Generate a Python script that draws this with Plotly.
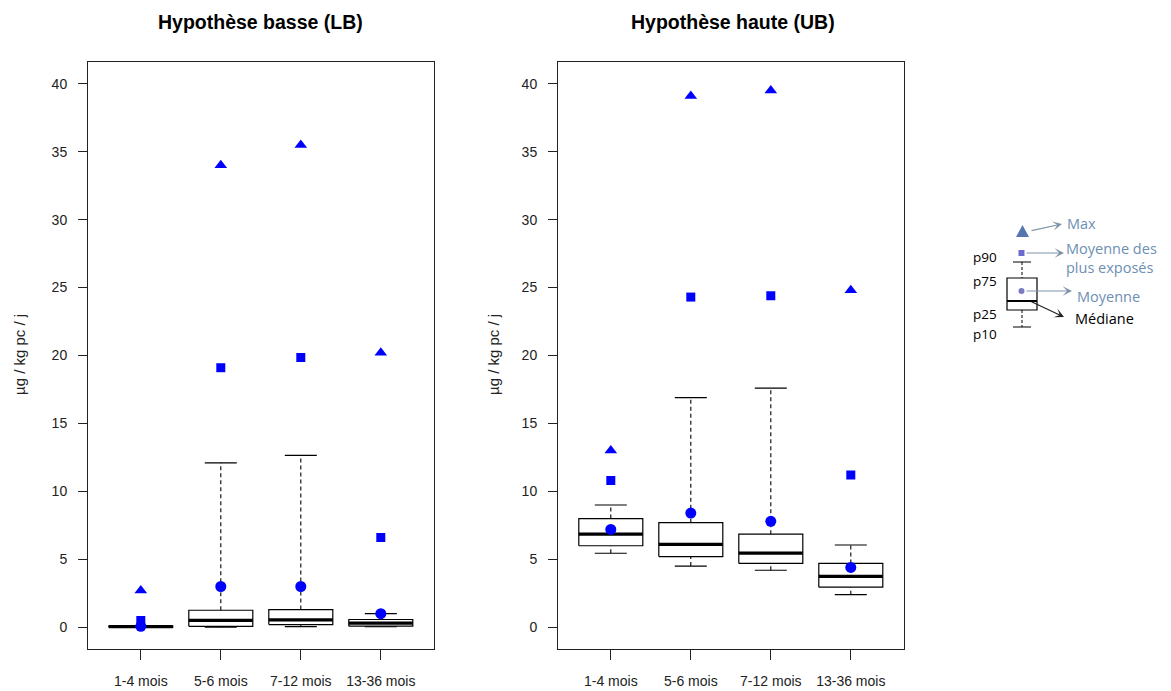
import plotly.graph_objects as go

# Exposition par classe d'âge (µg / kg pc / j)
categories = ["1-4 mois", "5-6 mois", "7-12 mois", "13-36 mois"]

# Hypothèse basse (LB)
lb_p10 = [0.0, 0.0, 0.05, 0.05]
lb_p25 = [0.0, 0.07, 0.2, 0.08]
lb_median = [0.04, 0.5, 0.55, 0.3]
lb_p75 = [0.08, 1.25, 1.3, 0.57]
lb_p90 = [0.1, 12.1, 12.65, 1.0]
lb_mean = [0.07, 3.0, 3.0, 1.0]
lb_mean_top = [0.5, 19.1, 19.85, 6.6]
lb_max = [2.7, 34.0, 35.5, 20.2]

# Hypothèse haute (UB)
ub_p10 = [5.45, 4.5, 4.2, 2.4]
ub_p25 = [6.0, 5.2, 4.7, 2.95]
ub_median = [6.85, 6.1, 5.45, 3.75]
ub_p75 = [8.0, 7.7, 6.85, 4.7]
ub_p90 = [9.0, 16.9, 17.6, 6.05]
ub_mean = [7.2, 8.4, 7.8, 4.4]
ub_mean_top = [10.8, 24.3, 24.4, 11.2]
ub_max = [13.0, 39.1, 39.5, 24.8]

y_ticks = [0, 5, 10, 15, 20, 25, 30, 35, 40]

W, H = 1171, 691
BLUE = "#0000FF"
FONT = "Liberation Sans, Arial, sans-serif"
BOX_HALF = 0.4
CAP_HALF = 0.2

fig = go.Figure()


def add_panel(xa, ya, p10, p25, med, p75, p90, mean, mean_top, vmax):
    for i in range(len(categories)):
        x = i + 1
        # whiskers (dashed) from the box to p10 / p90
        for a, b in ((p75[i], p90[i]), (p10[i], p25[i])):
            fig.add_trace(go.Scatter(
                x=[x, x], y=[a, b], mode="lines", xaxis=xa, yaxis=ya,
                line=dict(color="black", width=1.1, dash="4px,3px"),
                showlegend=False, hoverinfo="skip"))
        # whisker caps
        for v in (p10[i], p90[i]):
            fig.add_trace(go.Scatter(
                x=[x - CAP_HALF, x + CAP_HALF], y=[v, v], mode="lines",
                xaxis=xa, yaxis=ya, line=dict(color="black", width=1.1),
                showlegend=False, hoverinfo="skip"))
        # box p25-p75
        fig.add_trace(go.Scatter(
            x=[x - BOX_HALF, x + BOX_HALF, x + BOX_HALF, x - BOX_HALF, x - BOX_HALF],
            y=[p25[i], p25[i], p75[i], p75[i], p25[i]], mode="lines",
            xaxis=xa, yaxis=ya, line=dict(color="black", width=1.2),
            fill="toself", fillcolor="white",
            showlegend=False, hoverinfo="skip"))
        # median
        fig.add_trace(go.Scatter(
            x=[x - BOX_HALF, x + BOX_HALF], y=[med[i], med[i]], mode="lines",
            xaxis=xa, yaxis=ya, line=dict(color="black", width=3.2),
            showlegend=False, hoverinfo="skip"))
    xs = list(range(1, len(categories) + 1))
    fig.add_trace(go.Scatter(
        x=xs, y=vmax, mode="markers", xaxis=xa, yaxis=ya,
        marker=dict(symbol="triangle-up", size=11, color=BLUE),
        showlegend=False, hoverinfo="skip"))
    fig.add_trace(go.Scatter(
        x=xs, y=mean_top, mode="markers", xaxis=xa, yaxis=ya,
        marker=dict(symbol="square", size=9, color=BLUE),
        showlegend=False, hoverinfo="skip"))
    fig.add_trace(go.Scatter(
        x=xs, y=mean, mode="markers", xaxis=xa, yaxis=ya,
        marker=dict(symbol="circle", size=11, color=BLUE),
        showlegend=False, hoverinfo="skip"))


add_panel("x", "y", lb_p10, lb_p25, lb_median, lb_p75, lb_p90,
          lb_mean, lb_mean_top, lb_max)
add_panel("x2", "y2", ub_p10, ub_p25, ub_median, ub_p75, ub_p90,
          ub_mean, ub_mean_top, ub_max)


def px_x(v):
    return v / W


def px_y(v):
    return 1 - v / H


frame_top, frame_bottom = 62, 649
left_l, left_r = 88, 433.6
right_l, right_r = 558, 903.6

xaxis_common = dict(
    range=[0.34, 4.66], tickvals=[1, 2, 3, 4], ticktext=categories,
    ticks="outside", ticklen=10, tickcolor="#222", tickwidth=1,
    showline=True, linecolor="#222", linewidth=1, mirror=True,
    showgrid=False, zeroline=False, ticklabelstandoff=9,
    tickfont=dict(family=FONT, size=14, color="#222"))
yaxis_common = dict(
    range=[-1.6, 41.6], tickvals=y_ticks,
    ticks="outside", ticklen=9, tickcolor="#222", tickwidth=1,
    showline=True, linecolor="#222", linewidth=1, mirror=True,
    showgrid=False, zeroline=False, ticklabelstandoff=8,
    tickfont=dict(family=FONT, size=14, color="#222"))

ydom = [px_y(frame_bottom), px_y(frame_top)]
fig.update_layout(
    xaxis=dict(domain=[px_x(left_l), px_x(left_r)], anchor="y", **xaxis_common),
    yaxis=dict(domain=ydom, anchor="x", **yaxis_common),
    xaxis2=dict(domain=[px_x(right_l), px_x(right_r)], anchor="y2", **xaxis_common),
    yaxis2=dict(domain=ydom, anchor="x2", **yaxis_common),
)

annotations = []
# panel titles
for txt, cx in (("Hypothèse basse (LB)", 260), ("Hypothèse haute (UB)", 733)):
    annotations.append(dict(
        text="<b>%s</b>" % txt, x=px_x(cx), y=px_y(22), xref="paper", yref="paper",
        showarrow=False, xanchor="center", yanchor="middle",
        font=dict(family=FONT, size=19.5, color="black")))
# y axis titles
for cx in (19, 493):
    annotations.append(dict(
        text="µg / kg pc / j", x=px_x(cx), y=px_y(355), xref="paper", yref="paper",
        showarrow=False, textangle=-90, xanchor="center", yanchor="middle",
        font=dict(family=FONT, size=15, color="#222")))

# --- key explaining the symbols ---
KEY_FONT = "Open Sans, Lato, sans-serif"
KEY_BLUE = "#6d8fb3"
ARROW = "#7f93a8"


def key_text(txt, x, y, color, anchor="left", size=14.5):
    annotations.append(dict(
        text=txt, x=px_x(x), y=px_y(y), xref="paper", yref="paper",
        showarrow=False, xanchor=anchor, yanchor="middle",
        font=dict(family=KEY_FONT, size=size, color=color)))


def key_arrow(x0, y0, x1, y1, color):
    annotations.append(dict(
        text="", x=px_x(x1), y=px_y(y1), xref="paper", yref="paper",
        ax=x0 - x1, ay=y0 - y1, axref="pixel", ayref="pixel",
        showarrow=True, arrowhead=3, arrowsize=1.3, arrowwidth=1.2,
        arrowcolor=color, standoff=0, startstandoff=0))


key_arrow(1030, 231, 1062, 224, ARROW)
key_text("Max", 1065, 224, KEY_BLUE)
key_arrow(1025, 253, 1064, 253, ARROW)
key_text("Moyenne des", 1064, 249, KEY_BLUE)
key_text("plus exposés", 1064, 267, KEY_BLUE)
key_arrow(1025, 291, 1072, 291, ARROW)
key_text("Moyenne", 1075, 296, KEY_BLUE)
key_arrow(1030, 301, 1064, 317, "#222")
key_text("Médiane", 1073, 318, "black")
for lab, yy in (("p90", 257), ("p75", 281), ("p25", 314), ("p10", 334)):
    key_text(lab, 999, yy, "black", anchor="right", size=13.5)

shapes = []


def seg(x0, y0, x1, y1, color="black", width=1, dash="solid"):
    shapes.append(dict(type="line", xref="paper", yref="paper",
                       x0=px_x(x0), y0=px_y(y0), x1=px_x(x1), y1=px_y(y1),
                       line=dict(color=color, width=width, dash=dash)))


seg(1013, 262, 1031, 262)
seg(1013, 327, 1031, 327)
seg(1022, 262, 1022, 278, dash="3px,2px")
seg(1022, 310, 1022, 327, dash="3px,2px")
shapes.append(dict(type="rect", xref="paper", yref="paper",
                   x0=px_x(1007), y0=px_y(310), x1=px_x(1037), y1=px_y(278),
                   line=dict(color="black", width=1.2), fillcolor="white"))
seg(1007, 301, 1037, 301, width=2)
# key glyphs
shapes.append(dict(type="path", xref="paper", yref="paper",
                   path="M %f %f L %f %f L %f %f Z" % (
                       px_x(1016), px_y(237), px_x(1029), px_y(237),
                       px_x(1022.5), px_y(225)),
                   line=dict(width=0), fillcolor="#5677ad"))
shapes.append(dict(type="rect", xref="paper", yref="paper",
                   x0=px_x(1018.5), y0=px_y(256), x1=px_x(1024.5), y1=px_y(250),
                   line=dict(width=0), fillcolor="#6a6ad0"))
shapes.append(dict(type="circle", xref="paper", yref="paper",
                   x0=px_x(1018.5), y0=px_y(294), x1=px_x(1024.5), y1=px_y(288),
                   line=dict(width=0), fillcolor="#7a7ac0"))

fig.update_layout(
    width=W, height=H, autosize=False,
    margin=dict(l=0, r=0, t=0, b=0),
    paper_bgcolor="white", plot_bgcolor="white",
    annotations=annotations, shapes=shapes,
    showlegend=False,
)

fig.write_html("out.html")
